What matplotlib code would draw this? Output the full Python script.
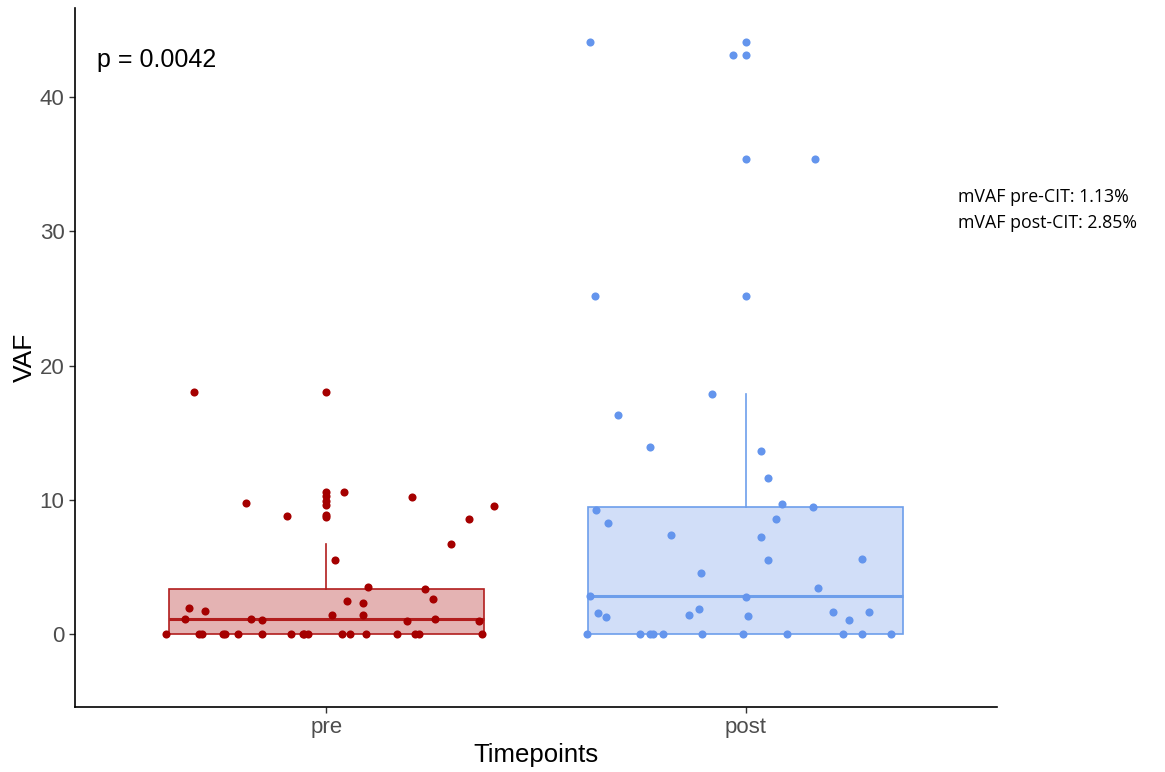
import numpy as np
import matplotlib
matplotlib.use("Agg")
import matplotlib.pyplot as plt

# Dados
groups = ["pre", "post"]

pre_jitter = [-0.317, 0.0, -0.193, -0.095, 0.0, 0.0, 0.0, 0.0, 0.0, 0.0,
              0.043, 0.203, 0.399, 0.339, 0.298, 0.021, 0.098, 0.236, 0.253, 0.050,
              0.086, -0.327, -0.291, -0.337, -0.179, -0.155, 0.012, 0.086, 0.193, 0.260,
              0.363,
              -0.384, -0.303, -0.298, -0.248, -0.243, -0.212, -0.155, -0.084, -0.057, -0.053,
              -0.045, 0.038, 0.057, 0.095, 0.169, 0.212, 0.220, 0.372]
pre_vaf = [18.0, 18.0, 9.76, 8.77, 10.6, 10.3, 9.9, 9.6, 8.9, 8.7,
           10.58, 10.19, 9.57, 8.6, 6.71, 5.51, 3.53, 3.33, 2.63, 2.43,
           2.33, 1.94, 1.74, 1.14, 1.14, 1.04, 1.44, 1.44, 0.95, 1.14,
           0.95,
           0, 0, 0, 0, 0, 0, 0, 0, 0, 0,
           0, 0, 0, 0, 0, 0, 0, 0]

post_jitter = [-0.370, 0.0, -0.029, 0.0, 0.0, 0.165, -0.360, 0.0,
               -0.081, -0.305, -0.229, 0.036, 0.053, 0.086, 0.162, -0.358, -0.329, 0.072,
               -0.179, 0.036, 0.053, 0.277, -0.107, 0.174, -0.370, 0.002, -0.353, -0.332,
               -0.136, -0.110, 0.007, 0.208, 0.246, 0.294,
               -0.379, -0.253, -0.229, -0.222, -0.196, -0.103, -0.005, 0.100, 0.232, 0.277, 0.348]
post_vaf = [44.14, 44.14, 43.14, 43.14, 35.42, 35.42, 25.2, 25.2,
            17.88, 16.32, 13.93, 13.64, 11.65, 9.66, 9.46, 9.26, 8.27, 8.6,
            7.4, 7.2, 5.51, 5.61, 4.52, 3.43, 2.83, 2.73, 1.54, 1.24,
            1.44, 1.84, 1.34, 1.64, 1.04, 1.64,
            0, 0, 0, 0, 0, 0, 0, 0, 0, 0, 0]

# caixas
box_q1 = [0.0, 0.0]
box_med = [1.13, 2.85]
box_q3 = [3.33, 9.46]
box_whislo = [0.0, 0.0]
box_whishi = [6.7, 17.9]

point_colors = ["#A50000", "#6495ED"]
fill_colors = ["#E4B3B3", "#D1DEF8"]
edge_colors = ["#B21E1E", "#6D9EEB"]

# Gráfico
fig = plt.figure(figsize=(11.65, 7.72), dpi=100)
ax = fig.add_axes([0.0644, 0.0842, 0.7914, 0.9054])

stats = []
for i in range(2):
    stats.append(dict(med=box_med[i], q1=box_q1[i], q3=box_q3[i],
                      whislo=box_whislo[i], whishi=box_whishi[i], fliers=[]))

for i in range(2):
    ax.bxp([stats[i]], positions=[i + 1], widths=0.75, patch_artist=True,
           showcaps=False, showfliers=False,
           boxprops=dict(facecolor=fill_colors[i], edgecolor=edge_colors[i], linewidth=1.2),
           medianprops=dict(color=edge_colors[i], linewidth=2.2),
           whiskerprops=dict(color=edge_colors[i], linewidth=1.2))

ax.scatter(1 + np.array(pre_jitter), pre_vaf, s=34, color=point_colors[0], zorder=3, linewidths=0)
ax.scatter(2 + np.array(post_jitter), post_vaf, s=34, color=point_colors[1], zorder=3, linewidths=0)

ax.set_xlim(0.4, 2.6)
ax.set_ylim(-5.44, 46.65)
ax.set_xticks([1, 2])
ax.set_xticklabels(groups)
ax.set_yticks([0, 10, 20, 30, 40])

for s in ["top", "right"]:
    ax.spines[s].set_visible(False)
for s in ["left", "bottom"]:
    ax.spines[s].set_linewidth(1.2)
ax.tick_params(axis="both", colors="#333333", length=4, width=1,
               labelsize=16, labelcolor="#4D4D4D")
ax.tick_params(axis="x", pad=3)
for lab in ax.get_xticklabels() + ax.get_yticklabels():
    lab.set_family("Liberation Sans")

ax.set_xlabel("Timepoints", family="Liberation Sans", fontsize=18.5, labelpad=4)
ax.set_ylabel("VAF", family="Liberation Sans", fontsize=19, labelpad=2)

ax.text(0.453, 42.8, "p = 0.0042", family="Liberation Sans", fontsize=18,
        va="center", ha="left")

fig.text(0.8223, 0.745, "mVAF pre-CIT: 1.13%", family="Open Sans", fontsize=12.8, va="center")
fig.text(0.8223, 0.711, "mVAF post-CIT: 2.85%", family="Open Sans", fontsize=12.8, va="center")

fig.savefig("out.png", dpi=100)
